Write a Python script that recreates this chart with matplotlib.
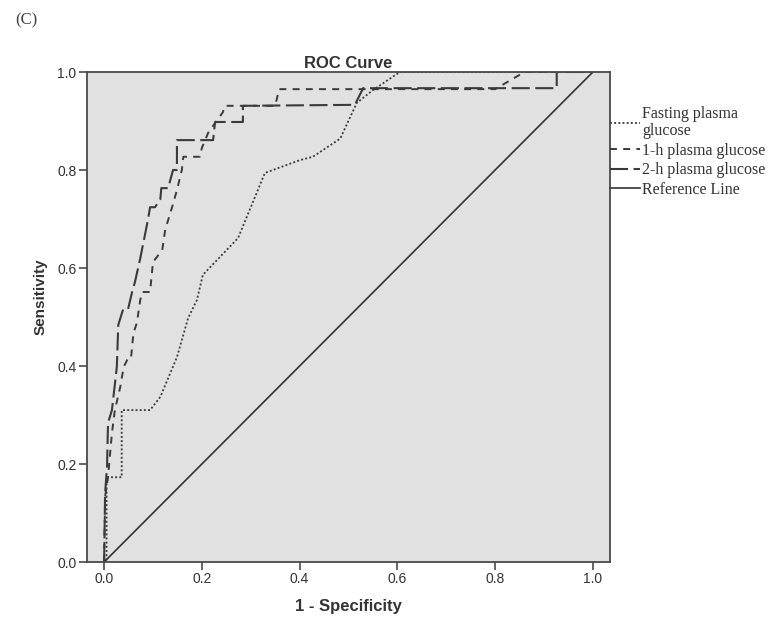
import matplotlib
matplotlib.use("Agg")
import matplotlib.pyplot as plt

# ---- data ----
fpg_x = [0.0, 0.005, 0.005, 0.036, 0.036, 0.094, 0.115, 0.149, 0.172, 0.190, 0.202,
         0.274, 0.329, 0.400, 0.427, 0.483, 0.517, 0.550, 0.590, 0.605, 1.0]
fpg_y = [0.0, 0.0, 0.173, 0.173, 0.310, 0.310, 0.337, 0.418, 0.498, 0.535, 0.586,
         0.661, 0.794, 0.820, 0.827, 0.864, 0.937, 0.963, 0.990, 1.0, 1.0]

h1_x = [0.0, 0.002, 0.008, 0.016, 0.022, 0.033, 0.040, 0.049, 0.055, 0.060, 0.067,
        0.074, 0.078, 0.094, 0.100, 0.119, 0.125, 0.139, 0.149, 0.159, 0.162, 0.196,
        0.200, 0.213, 0.243, 0.247, 0.350, 0.358, 0.800, 0.860, 1.0]
h1_y = [0.0, 0.133, 0.173, 0.263, 0.310, 0.357, 0.398, 0.416, 0.416, 0.467, 0.488,
        0.535, 0.551, 0.551, 0.612, 0.637, 0.678, 0.724, 0.759, 0.800, 0.827, 0.827,
        0.845, 0.876, 0.918, 0.931, 0.931, 0.965, 0.965, 1.0, 1.0]

h2_x = [0.0, 0.002, 0.006, 0.008, 0.016, 0.026, 0.029, 0.039, 0.049, 0.057, 0.063,
        0.074, 0.080, 0.090, 0.094, 0.104, 0.115, 0.117, 0.131, 0.141, 0.149, 0.149,
        0.223, 0.227, 0.284, 0.284, 0.513, 0.530, 0.926, 0.926, 1.0]
h2_y = [0.0, 0.140, 0.195, 0.284, 0.310, 0.398, 0.484, 0.516, 0.516, 0.550, 0.571,
        0.620, 0.650, 0.700, 0.724, 0.724, 0.740, 0.763, 0.763, 0.800, 0.800, 0.861,
        0.861, 0.898, 0.898, 0.931, 0.933, 0.967, 0.967, 1.0, 1.0]

ref_x = [0.0, 1.0]
ref_y = [0.0, 1.0]

labels = ["Fasting plasma\nglucose", "1-h plasma glucose", "2-h plasma glucose", "Reference Line"]
ticks = [0.0, 0.2, 0.4, 0.6, 0.8, 1.0]
tick_labels = ["0.0", "0.2", "0.4", "0.6", "0.8", "1.0"]

# ---- style ----
plt.rcParams["lines.scale_dashes"] = False
plt.rcParams["font.family"] = ["Liberation Sans", "DejaVu Sans"]
line_col = "#3a3a3a"
frame_col = "#4a4a4a"

fig = plt.figure(figsize=(7.8, 6.22), dpi=100)
ax = fig.add_axes([87/780, 1 - 562/622, (610-87)/780, (562-72)/622])
ax.set_facecolor("#e1e1e1")

ax.plot(fpg_x, fpg_y, color=line_col, lw=1.3, linestyle=(0, (1.4, 1.6)), label=labels[0])
ax.plot(h1_x, h1_y, color=line_col, lw=1.4, linestyle=(0, (5.0, 4.5)), label=labels[1])
ax.plot(h2_x, h2_y, color=line_col, lw=1.5, linestyle=(0, (13.0, 4.0)), label=labels[2])
ax.plot(ref_x, ref_y, color="#333333", lw=1.2, linestyle="-", label=labels[3])

ax.set_xlim(-0.035, 1.035)
ax.set_ylim(0.0, 1.0)
ax.set_xticks(ticks)
ax.set_xticklabels(tick_labels)
ax.set_yticks(ticks)
ax.set_yticklabels(tick_labels)
ax.tick_params(direction="out", length=5.5, width=1.2, color=frame_col,
               labelsize=10, labelcolor="#333333", pad=2)
for sp in ax.spines.values():
    sp.set_color(frame_col)
    sp.set_linewidth(1.3)

ax.set_title("ROC Curve", fontsize=12, fontweight="bold", color="#333333", pad=3)
ax.set_xlabel("1 - Specificity", fontsize=12, fontweight="bold", color="#333333", labelpad=9)
ax.set_ylabel("Sensitivity", fontsize=11, fontweight="bold", color="#333333")
ax.yaxis.set_label_coords(-0.075, 0.541)

leg = ax.legend(loc="upper left", bbox_to_anchor=(1.0, 0.93), frameon=False,
                borderaxespad=0, borderpad=0, handlelength=1.85, handletextpad=0.15,
                labelspacing=0.22, prop={"family": "Liberation Serif", "size": 11.5})
for t in leg.get_texts():
    t.set_color("#333333")
    t.set_linespacing(1.08)

fig.text(15/780, 1 - 20/622, "(C)", family="Liberation Serif", fontsize=12,
         color="#444444", va="center", ha="left")

fig.savefig("out.png", dpi=100, facecolor="white")
